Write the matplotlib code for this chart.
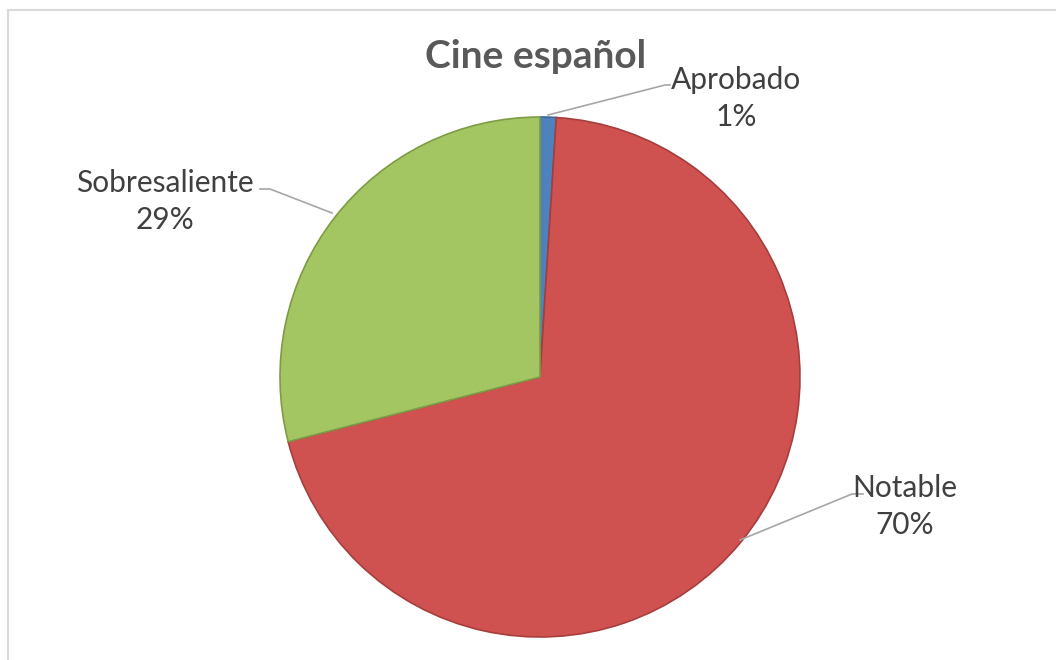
import matplotlib.pyplot as plt
from matplotlib.patches import Rectangle

categories = ['Aprobado', 'Notable', 'Sobresaliente']
values = [1, 70, 29]
colors = ['#4F81BD', '#D05250', '#A3C662']
edges = ['#3A6699', '#A63E3C', '#7E9C45']

W, H = 1056, 660
fig = plt.figure(figsize=(W / 100, H / 100), dpi=100)
ax = fig.add_axes([0, 0, 1, 1])

wedges, _ = ax.pie(values, colors=colors, startangle=90, counterclock=False,
                   center=(540, H - 377), radius=260,
                   wedgeprops=dict(linewidth=1.2))
for w, e in zip(wedges, edges):
    w.set_edgecolor(e)

ax.set_xlim(0, W)
ax.set_ylim(0, H)
ax.axis('off')

# chart border (runs off the right and bottom edges)
fig.patches.append(Rectangle((8 / W, -0.1), 1.1, (H - 10) / H + 0.1, transform=fig.transFigure,
                             fill=False, edgecolor='#D9D9D9', linewidth=1.5))

font = 'Lato'
txt = '#404040'
ax.text(536, H - 57, 'Cine español', ha='center', va='center', fontsize=28,
        fontweight='bold', color='#595959', family=font)

# label text (center x, y of first line), leader line points
labels = [
    (736, 80, [(548, 115), (665, 85), (670, 85)]),
    (905, 488, [(740, 540), (852, 494), (863, 494)]),
    (165, 183, [(332, 213), (270, 189), (260, 189)]),
]
for (cx, cy, pts), name, v in zip(labels, categories, values):
    ax.text(cx, H - cy, name, ha='center', va='center', fontsize=21.5, color=txt, family=font)
    ax.text(cx, H - cy - 37, f'{v}%', ha='center', va='center', fontsize=21.5, color=txt, family=font)
    ax.plot([p[0] for p in pts], [H - p[1] for p in pts], color='#A6A6A6', lw=1.2)

plt.savefig('out.png', dpi=100)
